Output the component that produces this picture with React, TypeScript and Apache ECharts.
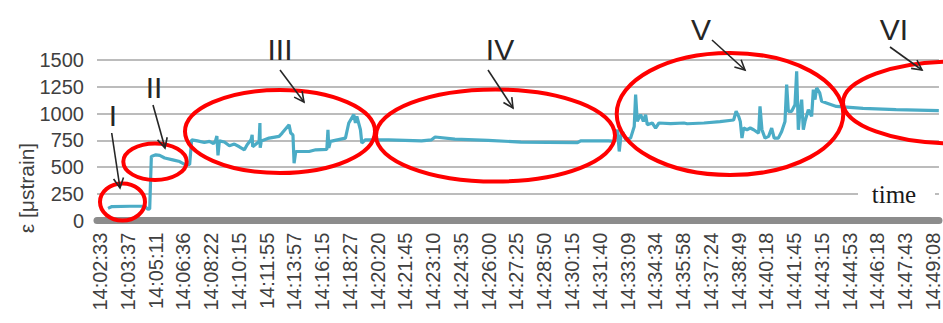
import React, { useEffect, useRef } from "react";
import * as echarts from "echarts";

// Category tick labels (time of day)
const tickLabels = [
  "14:02:33", "14:03:37", "14:05:11", "14:06:36", "14:08:22", "14:10:15",
  "14:11:55", "14:13:57", "14:16:15", "14:18:27", "14:20:20", "14:21:45",
  "14:23:10", "14:24:35", "14:26:00", "14:27:25", "14:28:50", "14:30:15",
  "14:31:40", "14:33:09", "14:34:34", "14:35:58", "14:37:24", "14:38:49",
  "14:40:18", "14:41:45", "14:43:15", "14:44:53", "14:46:18", "14:47:43",
  "14:49:08",
];

// Sample positions along the time axis (in tick-label index units)
const positions = [
  0.29, 0.43, 1.08, 1.61, 1.72, 1.79, 1.85, 2.01, 2.15, 2.33, 2.62, 2.87,
  3.08, 3.23, 3.3, 3.51, 3.76, 3.94, 4.09, 4.16, 4.21, 4.25, 4.3, 4.48,
  4.66, 4.84, 5.02, 5.2, 5.3, 5.44, 5.48, 5.5, 5.73, 5.76, 5.77, 5.81,
  6.09, 6.45, 6.56, 6.81, 6.87, 6.95, 6.99, 7.05, 7.53, 7.77, 8.17, 8.21,
  8.24, 8.3, 8.84, 8.96, 9.14, 9.2, 9.25, 9.38, 9.43, 9.56, 10.14, 10.39,
  11.58, 11.94, 12.07, 12.78, 13.98, 15.16, 16.13, 17.2, 17.31, 18.32,
  18.52, 18.64, 18.7, 18.76, 18.82, 18.94, 19.11, 19.24, 19.29, 19.35,
  19.47, 19.57, 19.65, 19.71, 19.89, 20.01, 20.13, 20.55, 21.03, 21.15,
  21.75, 22.33, 22.82, 22.91, 23.0, 23.06, 23.12, 23.18, 23.3, 23.42,
  23.54, 23.72, 23.77, 23.84, 23.95, 24.08, 24.19, 24.28, 24.43, 24.55,
  24.67, 24.73, 24.79, 24.91, 25.03, 25.09, 25.15, 25.21, 25.27, 25.33,
  25.39, 25.51, 25.63, 25.69, 25.75, 25.81, 25.92, 25.99, 26.16, 26.52,
  26.88, 27.48, 28.67, 30.21,
];

// Strain values (μstrain)
const strain = [
  115, 132, 135, 135, 108, 110, 600, 615, 610, 585, 568, 552,
  522, 525, 755, 745, 730, 740, 720, 745, 790, 610, 745, 735,
  700, 715, 690, 662, 709, 755, 802, 690, 740, 912, 680, 745,
  771, 787, 818, 896, 818, 800, 537, 646, 646, 662, 665, 849,
  680, 740, 771, 912, 990, 912, 974, 849, 725, 755, 755, 755,
  745, 755, 781, 762, 750, 734, 731, 728, 745, 745,
  740, 849, 646, 787, 830, 755, 771, 880, 1177, 927,
  990, 927, 990, 896, 912, 865, 912, 906, 912, 905,
  912, 925, 940, 1021, 974, 927, 771, 865, 849, 865,
  849, 818, 1067, 849, 771, 787, 865, 771, 771, 833,
  927, 1271, 1021, 1021, 1083, 1395, 849, 1021, 1130, 849,
  927, 1036, 974, 1224, 1130, 1240, 1193, 1114, 1099, 1067,
  1060, 1048, 1036, 1027,
];

const yTicks = [0, 250, 500, 750, 1000, 1250, 1500];
const phaseLabels = ["I", "II", "III", "IV", "V", "VI"];

// Annotation geometry (pixels)
const ellipseLayout = [
  { cx: 122.5, cy: 202, rx: 22.5, ry: 18.5 },
  { cx: 155, cy: 161.7, rx: 31.7, ry: 18.3 },
  { cx: 280, cy: 131.5, rx: 95, ry: 41.5 },
  { cx: 495.5, cy: 135.5, rx: 119.5, ry: 46 },
  { cx: 730, cy: 114, rx: 113.3, ry: 61 },
  { cx: 955, cy: 102.5, rx: 112, ry: 41 },
];
const labelLayout = [
  { x: 113, y: 115 },
  { x: 154, y: 87 },
  { x: 280, y: 49 },
  { x: 500, y: 49 },
  { x: 701, y: 29 },
  { x: 894, y: 29 },
];
const arrowLayout = [
  { x1: 111.7, y1: 133, x2: 120, y2: 188 },
  { x1: 153, y1: 105, x2: 165, y2: 148 },
  { x1: 280, y1: 70, x2: 304, y2: 102 },
  { x1: 488, y1: 70, x2: 513, y2: 108 },
  { x1: 712, y1: 40, x2: 745, y2: 70 },
  { x1: 890, y1: 47, x2: 922, y2: 70 },
];

function arrowHead(a: { x1: number; y1: number; x2: number; y2: number }) {
  const ang = Math.atan2(a.y2 - a.y1, a.x2 - a.x1);
  const L = 11;
  const t = (27 * Math.PI) / 180;
  return [
    [a.x2 - L * Math.cos(ang - t), a.y2 - L * Math.sin(ang - t)],
    [a.x2, a.y2],
    [a.x2 - L * Math.cos(ang + t), a.y2 - L * Math.sin(ang + t)],
  ];
}

export default function App() {
  const ref = useRef<HTMLDivElement>(null);
  useEffect(() => {
    if (!ref.current) return;
    const chart = echarts.init(ref.current, null, { renderer: "svg" });
    const graphics: any[] = [];
    ellipseLayout.forEach((e) => {
      graphics.push({
        type: "ellipse",
        z: 10,
        shape: { cx: e.cx, cy: e.cy, rx: e.rx, ry: e.ry },
        style: { fill: "none", stroke: "#ff0000", lineWidth: 4 },
      });
    });
    arrowLayout.forEach((a) => {
      graphics.push({
        type: "line",
        z: 11,
        shape: { x1: a.x1, y1: a.y1, x2: a.x2, y2: a.y2 },
        style: { stroke: "#262626", lineWidth: 1.6 },
      });
      graphics.push({
        type: "polyline",
        z: 11,
        shape: { points: arrowHead(a) },
        style: { stroke: "#262626", lineWidth: 1.6, fill: "none" },
      });
    });
    phaseLabels.forEach((t, i) => {
      graphics.push({
        type: "text",
        z: 11,
        x: labelLayout[i].x,
        y: labelLayout[i].y,
        style: {
          text: t,
          font: '30px "Liberation Sans", Arial, sans-serif',
          fill: "#262626",
          align: "center",
          verticalAlign: "middle",
        },
      });
    });
    graphics.push({
      type: "rect",
      z: 9,
      shape: { x: 858, y: 185, width: 77, height: 18 },
      style: { fill: "#ffffff" },
    });
    graphics.push({
      type: "text",
      z: 12,
      x: 894,
      y: 194.5,
      style: {
        text: "time",
        font: '25px "Liberation Serif", "Times New Roman", serif',
        fill: "#1a1a1a",
        align: "center",
        verticalAlign: "middle",
      },
    });
    graphics.push({
      type: "text",
      z: 12,
      x: 26,
      y: 188,
      rotation: Math.PI / 2,
      style: {
        text: "ε [μstrain]",
        font: '21px "Liberation Sans", Arial, sans-serif',
        fill: "#404040",
        align: "center",
        verticalAlign: "middle",
      },
    });

    chart.setOption({
      animation: false,
      backgroundColor: "#ffffff",
      grid: { left: 97, right: 0, top: 60, bottom: 102.3, containLabel: false },
      xAxis: {
        type: "value",
        min: -0.1075,
        max: 30.215,
        offset: 3,
        axisLine: { show: true, lineStyle: { color: "#8c8c8c", width: 7 } },
        axisTick: { show: false, customValues: tickLabels.map((_, i) => i) },
        splitLine: { show: false },
        axisLabel: {
          customValues: tickLabels.map((_, i) => i),
          rotate: 90,
          margin: 9,
          color: "#404040",
          fontSize: 20,
          fontFamily: '"Liberation Sans", Arial, sans-serif',
          formatter: (v: number) => tickLabels[Math.round(v)] ?? "",
        },
      },
      yAxis: {
        type: "value",
        min: yTicks[0],
        max: yTicks[yTicks.length - 1],
        interval: 250,
        axisLine: { show: false },
        axisTick: { show: false },
        splitLine: { show: true, lineStyle: { color: "#a6a6a6", width: 1.6 } },
        axisLabel: {
          margin: 13,
          color: "#404040",
          fontSize: 20,
          fontFamily: '"Liberation Sans", Arial, sans-serif',
          formatter: (v: number) => String(v),
        },
      },
      series: [
        {
          type: "line",
          data: positions.map((p, i) => [p, strain[i]]),
          showSymbol: false,
          symbol: "none",
          lineStyle: { color: "#4bacc6", width: 3.2 },
          z: 3,
        },
      ],
      graphic: graphics,
    });
    return () => chart.dispose();
  }, []);
  return (
    <div
      ref={ref}
      style={{ position: "fixed", left: 0, top: 0, width: 943, height: 323, background: "#fff" }}
    />
  );
}
